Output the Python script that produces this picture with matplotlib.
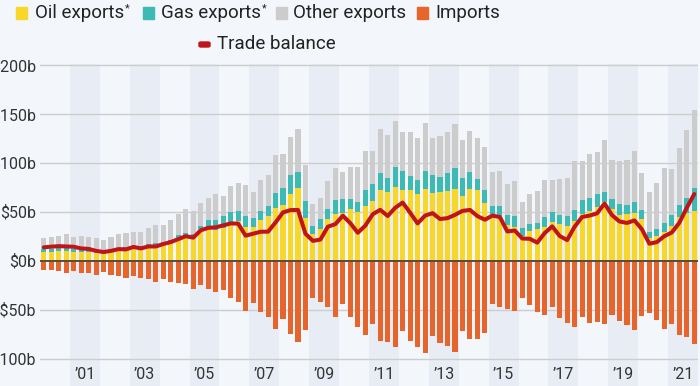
import numpy as np
import matplotlib.pyplot as plt
from matplotlib.patches import Rectangle, FancyBboxPatch

plt.rcParams['font.family'] = ['Roboto', 'DejaVu Sans']

# quarterly data 2000 Q1 .. 2021 Q4, billions USD
oil = [8.5, 9, 9.5, 9.5, 8.5, 8.5, 8.5, 8, 7, 9, 10, 11, 11.5, 12, 13.5, 14.5, 16, 18,
       22.8, 25.2, 24.5, 32, 34, 31.3, 33, 38, 40, 34.5, 34, 41, 45.7, 54.2, 56.5, 68, 74,
       43.2, 27.2, 32.3, 42.2, 47.6, 49, 52.4, 50, 56.1, 60.9, 72.1, 69.7, 75.2, 72.1, 72.1,
       68, 73.1, 69.4, 70.1, 71.1, 73.1, 66.3, 72.8, 72.1, 58.5, 47.3, 45.6, 36.4, 34, 25.2,
       30.3, 32, 34.7, 39.1, 37.8, 35.7, 40.1, 47.6, 51, 54.4, 59.5, 52.4, 46.6, 48, 48.3,
       42.5, 22.8, 25.5, 29.6, 35.7, 44.9, 48.3, 50.7]
gas = [3, 3, 3, 3, 3, 3, 3, 3, 3, 3, 3, 3, 3, 3, 3.5, 3.5, 3.5, 3.5,
       3.4, 2.7, 3, 3.4, 8, 10, 12.6, 11.5, 11, 11, 10, 10, 10, 14.5, 17.8, 19, 16.5,
       18, 8.2, 10.2, 10.8, 14.5, 14.2, 10.3, 9.9, 16, 17, 17.3, 14.3, 20.4, 19.1, 14.3,
       14.7, 18.4, 18, 15.3, 18, 21.1, 18.4, 18, 11.6, 13.3, 8.8, 10.5, 10.5, 11.2, 8.5,
       7.5, 6.8, 9.9, 10.6, 9.1, 9.5, 11.6, 14, 12.6, 13.3, 10.6, 10.9, 11.6, 9.1, 11.9,
       9.2, 6.8, 6.5, 8.5, 10.9, 12.2, 15.3, 23.4]
other = [11.3, 12.1, 12.7, 14.7, 13, 13.3, 13, 12.1, 10.7, 12.5, 14.6, 14.6, 15.1, 14.6, 16.3, 18.1, 16.6, 20,
         21.8, 24.8, 23.5, 23.6, 22.3, 27.1, 20.7, 26.5, 27.9, 31.7, 26.1, 31.3, 31.7, 39.1, 34.2, 39.2, 44.2,
         36.4, 22.4, 21.1, 28.6, 32.1, 26.9, 32.9, 35.7, 39.8, 34, 44.6, 44.2, 46.9, 40.1, 44.9,
         42.5, 48.6, 37.4, 41.8, 41.9, 45.3, 38.1, 41.5, 41.8, 44.5, 34, 35.1, 31.7, 36.1, 26.5,
         30.2, 31.9, 37.7, 32.6, 36.8, 39.2, 50.3, 40.1, 45.2, 42.8, 53, 39.4, 43.5, 45.6, 52,
         37.4, 40.8, 46.9, 56.5, 46.9, 58.2, 69.4, 79.3]
imports = [9.2, 9.9, 10.5, 12.9, 10.5, 12.9, 12.2, 15, 11.9, 14.5, 15.3, 17.3, 15.3, 17.3, 18.7, 21.6, 18.8, 22.2,
           22.4, 24.1, 28.9, 25.2, 28.9, 32, 29.9, 37.9, 41.8, 51.4, 43, 52.6, 58, 69.5, 59.5, 74.8, 82.7,
           70.7, 37.8, 41.8, 46.9, 57.1, 44.2, 57.1, 67.3, 75.9, 64.6, 81.9, 82.7, 88.1, 71.8, 81.6,
           87.8, 94.6, 76.5, 84.4, 87.4, 92.9, 72.1, 80.3, 80.3, 74.1, 44.6, 47.6, 49.7, 51, 37.8,
           45.6, 52.7, 55.1, 47.6, 58.8, 63.6, 67.3, 57.5, 63.3, 62.2, 65, 55.4, 61.6, 65.3, 71.1,
           56.1, 53.4, 60.2, 69.7, 64.6, 76.2, 77.9, 85.4]
balance = [13.6, 14.3, 14.8, 14.5, 14.2, 12.5, 12, 10, 8.8, 10, 11.8, 11.5, 14, 12.5, 14.5, 14.5, 17, 19,
           22, 25, 23.5, 31, 33.5, 34, 36, 38, 37.8, 25.5, 27.5, 29.5, 29.6, 39, 49.3, 51.6, 51.8,
           27.5, 20.2, 21.5, 34.7, 37.3, 45.9, 38.3, 28.5, 35.7, 47.4, 51.9, 45.6, 54, 59.3, 49,
           38, 46, 48.5, 42.5, 43.4, 46.8, 50.8, 51.8, 45.5, 41.8, 46, 44.5, 29.8, 30.8, 22.6,
           22.3, 18.4, 28.2, 35, 25.2, 21, 34.7, 44.6, 46, 48.3, 58.3, 46.5, 40, 38.5, 41.1,
           32, 17.3, 19, 25, 28.8, 38.6, 54, 68]
first_year = 2000
year_labels = ["’01", "’03", "’05", "’07", "’09", "’11", "’13", "’15", "’17", "’19", "’21"]

c_oil = '#f6d72a'
c_gas = '#3dbab3'
c_other = '#cccccc'
c_imp = '#e6652c'
c_bal = '#c0141b'
bg = '#f3f6fa'
band = '#e8edf5'

oil = np.array(oil); gas = np.array(gas); other = np.array(other)
n = len(oil)
x = first_year + (np.arange(n) + 0.5) / 4
last_year = first_year + n // 4

fig = plt.figure(figsize=(7, 3.86), dpi=100)
fig.patch.set_facecolor(bg)
ax = fig.add_axes([40 / 700, 0, 658 / 700, (386 - 64.3) / 386])
ax.set_facecolor(bg)

for yr in range(first_year + 1, last_year, 2):
    ax.axvspan(yr, yr + 1, color=band, lw=0, zorder=0)
for v in [-100, -50, 50, 100, 150, 200]:
    ax.axhline(v, color='#cdcdcd', lw=1, zorder=1)

w = 0.17
ax.bar(x, oil, w, color=c_oil, zorder=2)
ax.bar(x, gas, w, bottom=oil, color=c_gas, zorder=2)
ax.bar(x, other, w, bottom=oil + gas, color=c_other, zorder=2)
ax.bar(x, -np.array(imports), w, color=c_imp, zorder=2)
ax.axhline(0, color='#5a4a3c', lw=1.4, zorder=3)
ax.plot(x, balance, color=c_bal, lw=2.9, solid_joinstyle='round', solid_capstyle='round', zorder=4)

ax.set_xlim(first_year, last_year)
ax.set_ylim(-128, 200.5)
for s in ax.spines.values():
    s.set_visible(False)
ax.set_xticks([])
yt = [200, 150, 100, 50, 0, -50, -100]
ax.set_yticks(yt)
ax.set_yticklabels([('-' if v < 0 else '') + '$%db' % abs(v) for v in yt], fontsize=11.5, color='#333333')
ax.tick_params(axis='y', length=0, pad=3)

for k, lab in enumerate(year_labels):
    ax.text(first_year + 1.5 + 2 * k, -116.5, lab, ha='center', va='center', fontsize=11.5, color='#333333')

# legend drawn by hand
H = 386
def fy(py):
    return 1 - py / H

items = [(21.5, 35, c_oil, 'Oil exports', True), (148.5, 161, c_gas, 'Gas exports', True),
         (281, 293, c_other, 'Other exports', False), (422.5, 435, c_imp, 'Imports', False)]
fig.canvas.draw()
r = fig.canvas.get_renderer()
for cx, tx, col, lab, star in items:
    fig.patches.append(Rectangle(((cx - 5.5) / 700, fy(19)), 11 / 700, 12 / H, color=col,
                                 transform=fig.transFigure, figure=fig))
    t = fig.text(tx / 700, fy(13), lab, fontsize=13.5, color='#222222', va='center', ha='left')
    if star:
        bb = t.get_window_extent(renderer=r)
        fig.text(bb.x1 / 700 + 0.001, fy(8), '*', fontsize=8, color='#222222', va='center', ha='left')
fig.patches.append(FancyBboxPatch((199 / 700, fy(47)), 11 / 700, 5 / H, boxstyle='round,pad=0,rounding_size=0.003',
                                  color=c_bal, transform=fig.transFigure, figure=fig))
fig.text(217 / 700, fy(44), 'Trade balance', fontsize=13.5, color='#222222', va='center', ha='left')

fig.savefig('out.png', dpi=100, facecolor=bg)
